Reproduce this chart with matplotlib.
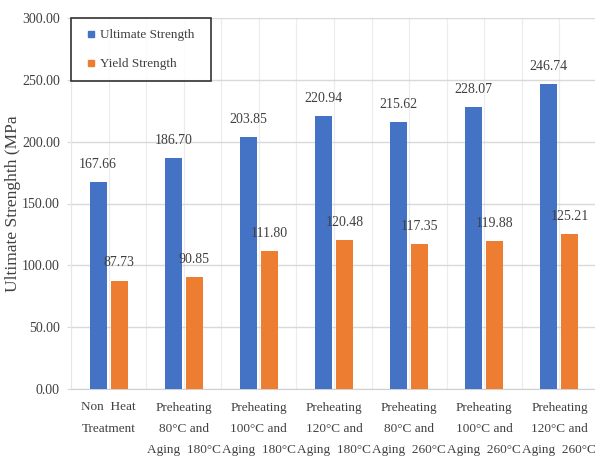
import numpy as np
import matplotlib.pyplot as plt
from matplotlib.lines import Line2D

plt.rcParams['font.family'] = ['Liberation Serif', 'DejaVu Serif']

categories = [
    "Non  Heat\nTreatment",
    "Preheating\n80\u00b0C and\nAging  180\u00b0C",
    "Preheating\n100\u00b0C and\nAging  180\u00b0C",
    "Preheating\n120\u00b0C and\nAging  180\u00b0C",
    "Preheating\n80\u00b0C and\nAging  260\u00b0C",
    "Preheating\n100\u00b0C and\nAging  260\u00b0C",
    "Preheating\n120\u00b0C and\nAging  260\u00b0C",
]
ultimate = [167.66, 186.70, 203.85, 220.94, 215.62, 228.07, 246.74]
yield_strength = [87.73, 90.85, 111.80, 120.48, 117.35, 119.88, 125.21]

blue = '#4472C4'
orange = '#ED7D31'
txt = '#404040'

fig = plt.figure(figsize=(5.95, 4.68), dpi=100)
ax = fig.add_axes([71 / 595, 1 - 389 / 468, 526 / 595, 371 / 468])

x = np.arange(len(categories))
w = 0.225
off = 0.14
b1 = ax.bar(x - off, ultimate, w, color=blue, label='Ultimate Strength', zorder=3)
b2 = ax.bar(x + off, yield_strength, w, color=orange, label='Yield Strength', zorder=3)

# value labels above each bar
for bars, vals in ((b1, ultimate), (b2, yield_strength)):
    for r, v in zip(bars, vals):
        ax.annotate(f'{v:.2f}', (r.get_x() + r.get_width() / 2, v),
                    xytext=(0, 8), textcoords='offset points',
                    ha='center', va='bottom', fontsize=10, color=txt)

ax.set_xlim(-0.5, len(categories) - 0.5)
ax.set_ylim(0, 300)
ax.set_yticks(np.arange(0, 301, 50))
ax.set_yticklabels([f'{t:.2f}' for t in np.arange(0, 301, 50)], fontsize=10, color=txt)
ax.set_xticks(x)
ax.set_xticklabels(categories, fontsize=9.5, color=txt, linespacing=2.0)
ax.set_xticks(np.arange(-0.5, len(categories)), minor=True)

ax.grid(axis='y', color='#d9d9d9', lw=1, zorder=0)
ax.grid(axis='x', which='both', color='#ececec', lw=0.8, zorder=0)
ax.tick_params(axis='x', which='both', length=0, pad=9)
ax.tick_params(axis='y', length=3, color='#d9d9d9', pad=5)

for s in ('top', 'right'):
    ax.spines[s].set_visible(False)
ax.spines['left'].set_color('#e6e6e6')
ax.spines['bottom'].set_color('#d0d0d0')

ax.set_ylabel('Ultimate Strenghth (MPa', fontsize=12.5, color=txt, labelpad=1)

handles = [Line2D([], [], marker='s', ls='', color=blue, markersize=5),
           Line2D([], [], marker='s', ls='', color=orange, markersize=5)]
leg = ax.legend(handles, ['Ultimate Strength', 'Yield Strength'],
                loc='upper left', bbox_to_anchor=(0.0, 0.0, 140 / 526, 1.0),
                mode='expand', fontsize=9.5,
                frameon=True, fancybox=False, handletextpad=0.05,
                handlelength=1.3, labelspacing=1.25, borderpad=0.85,
                borderaxespad=0)
leg.get_frame().set_edgecolor('black')
leg.get_frame().set_linewidth(1.2)
for t in leg.get_texts():
    t.set_color(txt)

fig.savefig('out.png', dpi=100)
